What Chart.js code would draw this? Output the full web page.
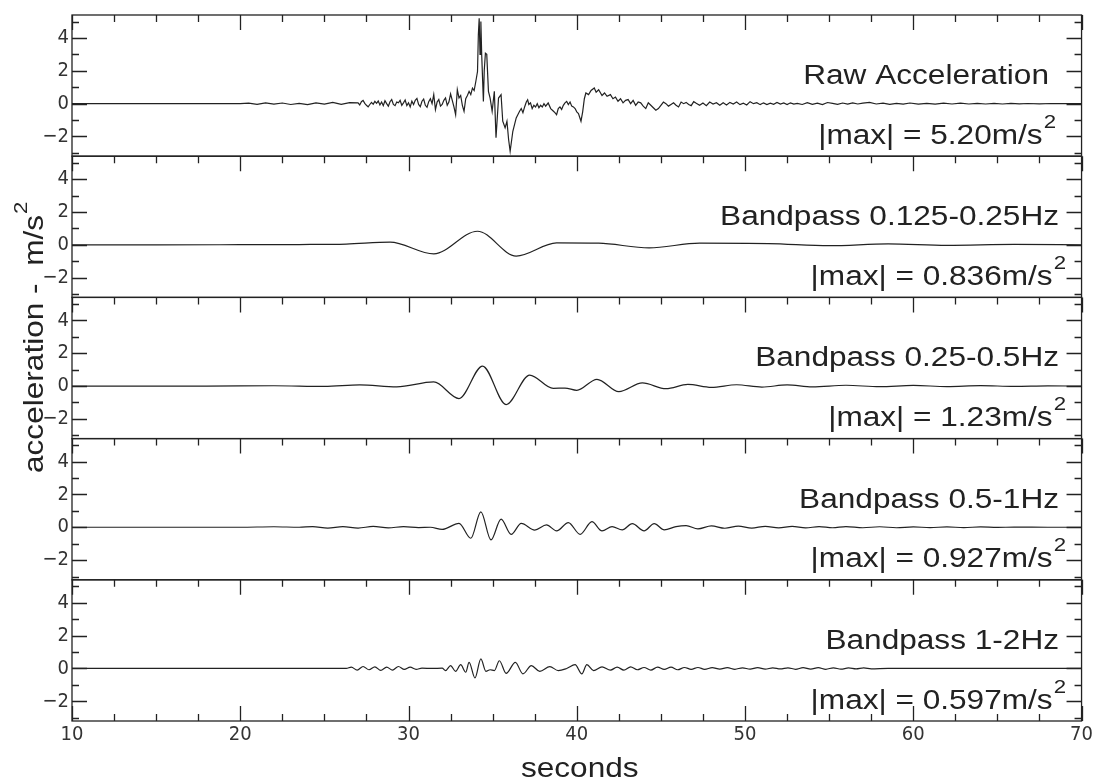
<!DOCTYPE html>
<html>
<head>
<meta charset="utf-8">
<script src="https://cdn.jsdelivr.net/npm/chart.js@4.4.0/dist/chart.umd.min.js"></script>
<style>
  html, body { margin: 0; padding: 0; background: #fff; }
  canvas { display: block; }
</style>
</head>
<body>
<canvas id="waveChart" width="1095" height="783"></canvas>
<script>
// panel text
const panelTitles = ['Raw Acceleration', 'Bandpass 0.125-0.25Hz', 'Bandpass 0.25-0.5Hz', 'Bandpass 0.5-1Hz', 'Bandpass 1-2Hz'];
const panelMax = ['5.20', '0.836', '1.23', '0.927', '0.597'];
const xTickLabels = [10, 20, 30, 40, 50, 60, 70];
const yTickLabels = [-2, 0, 2, 4];

// raw acceleration (seconds, m/s^2)
const rawTime = [
  10, 20, 20.5, 21, 21.5, 22, 22.5, 23, 23.5, 24, 24.5, 25, 25.5, 26, 26.5,
  27.0, 27.1, 27.2, 27.3, 27.4, 27.5, 27.6, 27.7, 27.8, 27.9, 28.0, 28.1, 28.2, 28.3, 28.4, 28.5, 28.6, 28.7, 28.8, 28.9,
  29.0, 29.1, 29.2, 29.3, 29.4, 29.5, 29.6, 29.7, 29.8, 29.9, 30.0, 30.1, 30.2, 30.3, 30.4, 30.5, 30.6, 30.7, 30.8, 30.9,
  31.0, 31.1, 31.2, 31.3, 31.4, 31.5, 31.6, 31.7, 31.8, 31.9, 32.0, 32.1, 32.2, 32.3, 32.4, 32.5, 32.6, 32.7, 32.8, 32.9,
  33.0, 33.1, 33.2, 33.3, 33.4, 33.5, 33.6, 33.7, 33.8, 33.9, 34.0, 34.1, 34.15, 34.2, 34.25, 34.3, 34.35, 34.45, 34.5,
  34.57, 34.65, 34.75, 34.85, 34.97, 35.1, 35.2, 35.35, 35.5, 35.6, 35.74, 35.85, 35.95, 36.04, 36.2, 36.4, 36.6,
  36.7, 36.8, 36.9, 37.0, 37.08, 37.15, 37.25, 37.35, 37.45, 37.55, 37.65, 37.75, 37.85, 37.95, 38.05, 38.15, 38.3,
  38.45, 38.6, 38.7, 38.8, 38.9, 39.0, 39.1, 39.2, 39.3, 39.4, 39.5, 39.6, 39.7, 39.8, 39.9, 40.0, 40.1, 40.25, 40.35,
  40.45, 40.54, 40.7, 40.85, 41.04, 41.15, 41.3, 41.5, 41.65, 41.8, 42.0, 42.15, 42.3, 42.45, 42.6, 42.75, 42.9, 43.05,
  43.2, 43.35, 43.5, 43.65, 43.8, 43.95, 44.1, 44.25, 44.4, 44.55, 44.7, 44.85, 45.0, 45.15, 45.3, 45.45, 45.6, 45.75,
  45.9, 46.05, 46.2, 46.35, 46.5, 46.65, 46.8, 46.95, 47.1, 47.3, 47.5, 47.7, 47.9, 48.1, 48.3, 48.5, 48.7, 48.9, 49.1,
  49.3, 49.5, 49.7, 49.9, 50.1, 50.3, 50.5, 50.7, 50.9, 51.1, 51.3, 51.5, 51.7, 51.9, 52.1, 52.3, 52.5, 52.7, 52.9,
  53.1, 53.4, 53.7, 54.0, 54.3, 54.6, 54.9, 55.2, 55.5, 55.8, 56.1, 56.4, 56.7, 57.0, 57.4, 57.8, 58.2, 58.6, 59.0,
  59.4, 59.8, 60.3, 60.8, 61.3, 61.8, 62.3, 62.8, 63.3, 63.8, 64.3, 64.8, 65.3, 65.8, 66.3, 66.8, 67.5, 68.2, 69, 70
];
const rawAccel = [
  0, 0, 0.03, -0.04, 0.05, -0.03, 0.04, -0.05, 0.02, -0.06, 0.05, -0.03, 0.08, -0.04, 0.06,
  0.05, -0.08, 0.12, 0.2, 0.02, -0.1, -0.2, -0.05, 0.08, -0.04, 0.14, 0.02, 0.16, -0.08, 0.1, -0.12, 0.18, 0.0, -0.15, 0.12,
  0.25, -0.05, -0.12, 0.1, 0.05, 0.2, -0.1, 0.05, 0.22, -0.12, 0.05, -0.2, 0.15, -0.05, 0.2, 0.32, -0.05, -0.18, 0.15, 0.28,
  -0.1, -0.22, 0.12, 0.3, 0.0, 0.55, -0.36, 0.1, 0.25, -0.15, -0.05, 0.2, 0.35, -0.1, 0.1, 0.59, 0.2, -0.2, -0.67, 0.85,
  0.35, 0.5, -0.1, -0.46, 0.3, 0.5, 0.75, 0.55, 0.95, 0.8, 1.35, 1.96, 4.2, 5.2, 3.0, 5.0, 2.97, 0.14, 2.0,
  3.07, 3.0, 0.75, 0.34, -0.46, 0.75, -2.08, 0.34, 0.55, -1.07, -1.47, -1.07, -2.2, -2.9, -1.68, -0.87, -0.46,
  -0.3, -0.55, -0.2, 0.1, 0.24, -0.05, 0.05, -0.3, -0.1, -0.2, 0.0, -0.25, -0.1, -0.2, 0.0, -0.15, 0.04,
  -0.3, -0.45, -0.55, -0.67, -0.3, -0.2, -0.35, -0.1, 0.05, 0.14, -0.05, 0.1, -0.15, -0.2, -0.3, -0.5, -0.6, -1.07, -0.5,
  0.3, 0.65, 0.55, 0.8, 0.95, 0.7, 0.85, 0.5, 0.65, 0.45, 0.55, 0.3, 0.4, 0.15, 0.3, 0.05, 0.2, 0.25,
  0.0, 0.2, -0.1, 0.1, 0.05, -0.15, -0.3, 0.05, -0.1, -0.25, -0.4, -0.3, -0.1, 0.1, 0.0, -0.15, -0.05, 0.05,
  -0.1, -0.2, 0.1, 0.0, 0.08, -0.05, -0.12, 0.12, 0.02, -0.1, 0.04, -0.12, 0.1, -0.02, 0.06, -0.1, 0.05, -0.08, 0.08,
  -0.02, 0.1, -0.06, 0.03, -0.08, 0.12, 0.0, 0.06, -0.06, 0.05, -0.05, 0.03, -0.04, 0.07, -0.02, 0.04, -0.06, 0.05, -0.03,
  0.02, -0.05, 0.06, -0.04, 0.03, -0.06, 0.07, 0.02, -0.04, 0.04, -0.03, 0.05, -0.02, 0.03, 0.08, -0.02, 0.03, -0.04, 0.02,
  -0.03, 0.04, -0.03, 0.02, -0.03, 0.03, -0.02, 0.03, -0.02, 0.02, -0.02, 0.02, -0.02, 0.02, -0.01, 0.01, -0.01, 0.01, 0, 0
];

// bandpass 0.125-0.25 Hz
const bp1Time = [10, 15, 20, 23.5, 26.3, 28.9, 31.5, 34.1, 36.4, 38.8, 41.3, 44.3, 47.3, 51.4, 55, 58.5, 62, 66, 70];
const bp1Accel = [0, 0, 0.01, 0.02, 0.05, 0.17, -0.55, 0.83, -0.68, 0.12, 0.1, -0.18, 0.1, 0.08, -0.05, 0.06, -0.03, 0.03, 0];

// bandpass 0.25-0.5 Hz
const bp2Time = [10, 18, 22, 25, 27.1, 29.3, 31.5, 33.0, 34.4, 35.8, 37.2, 38.6, 39.3, 40.0, 41.2, 42.5, 43.9, 45.3, 46.6,
  48, 49.5, 51, 52.5, 54, 56, 58, 60, 62, 64, 66, 68, 70];
const bp2Accel = [0, 0, 0.02, -0.02, 0.07, -0.05, 0.25, -0.76, 1.22, -1.13, 0.67, -0.14, -0.12, -0.26, 0.41, -0.34, 0.19, -0.16, 0.1,
  -0.08, 0.08, -0.06, 0.07, -0.05, 0.05, -0.04, 0.04, -0.03, 0.03, -0.02, 0.01, 0];

// bandpass 0.5-1 Hz
const bp3Time = [10, 20, 22, 23.5, 24.3, 25.2, 26.1, 27, 27.9, 28.8, 29.7, 30.6, 31.3, 32.0, 33.0, 33.7, 34.3, 34.9, 35.5,
  36.1, 36.7, 37.5, 38.2, 38.8, 39.5, 40.2, 40.9, 41.5, 42.1, 42.7, 43.3, 44.0, 44.6, 45.2, 45.9, 46.5, 47.2, 48.0,
  48.8, 49.6, 50.4, 51.2, 52.0, 52.8, 53.6, 54.4, 55.2, 56.0, 57, 58, 59, 60, 61, 62, 63, 64, 65, 66, 68, 70];
const bp3Accel = [0, 0, 0.03, 0, 0.04, -0.05, 0.04, -0.05, 0.05, -0.04, 0.04, -0.02, 0.0, -0.13, 0.24, -0.67, 0.94, -0.77, 0.5,
  -0.43, 0.24, -0.17, 0.14, -0.22, 0.28, -0.43, 0.34, -0.22, 0.04, -0.16, 0.22, -0.22, 0.22, -0.16, 0.04, 0.1, -0.1, 0.08,
  -0.06, 0.07, -0.05, 0.06, -0.04, 0.05, -0.04, 0.04, -0.03, 0.04, -0.03, 0.03, -0.03, 0.02, -0.02, 0.02, -0.02, 0.02, -0.01, 0.01, 0, 0];

// bandpass 1-2 Hz
const bp4Time = [10, 20, 26.3, 26.6, 26.95, 27.3, 27.65, 28.0, 28.35, 28.7, 29.05, 29.4, 29.75, 30.1, 30.45, 30.8, 31.4,
  32.0, 32.2, 32.5, 32.8, 33.1, 33.4, 33.6, 33.95, 34.3, 34.6, 34.85, 35.1, 35.4, 35.8, 36.35, 36.8, 37.3, 37.8, 38.4,
  38.9, 39.4, 39.9, 40.3, 40.6, 41.0, 41.5, 42.0, 42.4, 42.8, 43.2, 43.6, 44.0, 44.4, 44.8, 45.2, 45.6, 46.0, 46.4,
  46.8, 47.2, 47.6, 48.05, 48.5, 48.95, 49.4, 49.85, 50.3, 50.75, 51.2, 51.65, 52.1, 52.55, 53.0, 53.45, 53.9, 54.35,
  54.8, 55.25, 55.7, 56.15, 56.6, 57.05, 57.5, 58.5, 60, 62, 65, 70];
const bp4Accel = [0, 0, 0, 0.08, -0.1, 0.12, -0.08, 0.1, -0.12, 0.08, -0.1, 0.12, -0.06, 0.08, -0.05, 0.02, 0.0,
  0.02, -0.13, 0.17, -0.18, 0.23, -0.23, 0.37, -0.58, 0.58, -0.18, -0.08, -0.13, 0.47, -0.3, 0.37, -0.33, 0.17, -0.18, 0.11,
  -0.13, 0.0, 0.23, -0.33, 0.23, -0.13, 0.1, -0.1, 0.08, -0.1, 0.1, -0.08, 0.06, -0.1, 0.08, -0.06, 0.08, -0.08, 0.06,
  -0.05, 0.06, -0.05, 0.05, -0.04, 0.05, -0.05, 0.04, -0.04, 0.05, -0.04, 0.04, -0.03, 0.04, -0.05, 0.05, -0.04, 0.05,
  -0.05, 0.04, -0.04, 0.03, -0.03, 0.03, -0.02, 0.01, 0, 0, 0, 0];

const seriesTimes = [rawTime, bp1Time, bp2Time, bp3Time, bp4Time];
const seriesValues = [rawAccel, bp1Accel, bp2Accel, bp3Accel, bp4Accel];

const panelIds = ['y0', 'y1', 'y2', 'y3', 'y4'];
const INK = '#222';
const TEXT_STRETCH = 1.17;
const tickFont = { family: '"Liberation Sans Narrow", "DejaVu Sans Condensed", sans-serif', size: 20 };

function drawText(ctx, text, x, y, size, align, angle) {
  ctx.save();
  ctx.translate(x, y);
  if (angle) ctx.rotate(angle);
  ctx.scale(TEXT_STRETCH, 1);
  ctx.font = size + 'px "Liberation Sans", Arial, sans-serif';
  ctx.textAlign = align;
  ctx.textBaseline = 'alphabetic';
  ctx.fillStyle = INK;
  ctx.fillText(text, 0, 0);
  const w = ctx.measureText(text).width * TEXT_STRETCH;
  ctx.restore();
  return w;
}

function textWidth(ctx, text, size) {
  ctx.save();
  ctx.font = size + 'px "Liberation Sans", Arial, sans-serif';
  const w = ctx.measureText(text).width * TEXT_STRETCH;
  ctx.restore();
  return w;
}

// frames, inward ticks and panel labels
const panelPlugin = {
  id: 'panelPlugin',
  afterDraw(chart) {
    const ctx = chart.ctx;
    const xs = chart.scales.x;
    const left = xs.left, right = xs.right;
    ctx.save();
    ctx.strokeStyle = INK;
    ctx.lineWidth = 1.3;

    panelIds.forEach((id, i) => {
      const ys = chart.scales[id];
      const top = ys.top, bottom = ys.bottom;
      ctx.strokeRect(left, top, right - left, bottom - top);

      ctx.beginPath();
      // x ticks, every 2.5 s, longer on the tens
      for (let t = 10; t <= 70; t += 2.5) {
        const px = Math.round(xs.getPixelForValue(t)) + 0.5;
        const len = t % 10 === 0 ? 15 : 7;
        ctx.moveTo(px, top);
        ctx.lineTo(px, top + len);
        if (i === panelIds.length - 1) {
          ctx.moveTo(px, bottom);
          ctx.lineTo(px, bottom - len);
        }
      }
      // y ticks, every 1 unit, longer on the even values
      for (let v = -3; v <= 5; v++) {
        const py = Math.round(ys.getPixelForValue(v)) + 0.5;
        const len = v % 2 === 0 ? 15 : 7;
        ctx.moveTo(left, py);
        ctx.lineTo(left + len, py);
        ctx.moveTo(right, py);
        ctx.lineTo(right - len, py);
      }
      ctx.stroke();

      // labels
      const edge = i === 0 ? 1049 : 1059;
      drawText(ctx, panelTitles[i], edge, ys.getPixelForValue(1.2), 27, 'right');
      const supW = textWidth(ctx, '2', 19);
      const supRight = edge + 7;
      drawText(ctx, '2', supRight, ys.getPixelForValue(-2.45) - 16, 19, 'right');
      drawText(ctx, '|max| = ' + panelMax[i] + 'm/s', supRight - supW - 1, ys.getPixelForValue(-2.45), 27, 'right');
    });

    // axis titles
    const mainW = drawText(ctx, 'acceleration -  m/s', 43, 473, 27, 'left', -Math.PI / 2);
    drawText(ctx, '2', 43 - 16, 473 - mainW - 1, 19, 'left', -Math.PI / 2);
    drawText(ctx, 'seconds', (left + right) / 2 + 3, 777, 27, 'center');
    ctx.restore();
  }
};

const datasets = panelIds.map((id, i) => ({
  label: panelTitles[i],
  data: seriesTimes[i].map((t, k) => ({ x: t, y: seriesValues[i][k] })),
  yAxisID: id,
  borderColor: INK,
  borderWidth: 1.2,
  pointRadius: 0,
  fill: false,
  tension: 0,
  cubicInterpolationMode: i === 0 ? 'default' : 'monotone'
}));

const scales = {
  x: {
    type: 'linear',
    min: 10,
    max: 70,
    grid: { display: false, drawTicks: false },
    border: { display: false },
    ticks: {
      stepSize: 10,
      padding: 2,
      color: '#333',
      font: tickFont,
      maxRotation: 0,
      callback: v => xTickLabels.includes(v) ? String(v) : ''
    },
    afterFit: s => { s.height = 62; }
  }
};
panelIds.forEach((id, i) => {
  scales[id] = {
    type: 'linear',
    position: 'left',
    stack: 'panels',
    stackWeight: 1,
    weight: panelIds.length - i,
    min: -3.2,
    max: 5.4,
    grid: { display: false, drawTicks: false },
    border: { display: false },
    ticks: {
      stepSize: 2,
      includeBounds: false,
      autoSkip: false,
      padding: 3,
      color: '#333',
      font: tickFont,
      callback: v => yTickLabels.includes(v) ? String(v).replace('-', '\u2212') : ''
    },
    afterFit: s => { s.width = 58; }
  };
});

const ctx = document.getElementById('waveChart').getContext('2d');
const chart = new Chart(ctx, {
  type: 'line',
  data: { datasets: datasets },
  options: {
    responsive: false,
    animation: false,
    layout: { padding: { left: 14, right: 12, top: 10, bottom: 0 } },
    plugins: {
      legend: { display: false },
      tooltip: { enabled: false }
    },
    scales: scales
  },
  plugins: [panelPlugin]
});
</script>
</body>
</html>
